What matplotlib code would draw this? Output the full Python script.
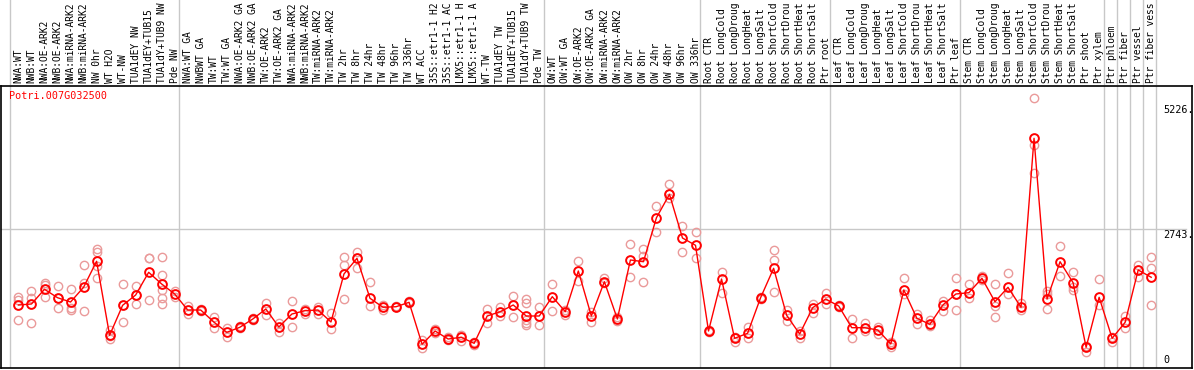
import numpy as np
import matplotlib
matplotlib.use("Agg")
import matplotlib.pyplot as plt
from matplotlib.transforms import blended_transform_factory

gene = "Potri.007G032500"

labels_nw = ["NWA:WT", "NWB:WT", "NWA:OE-ARK2", "NWB:OE-ARK2", "NWA:miRNA-ARK2",
             "NWB:miRNA-ARK2", "NW 0hr", "WT H2O", "WT-NW", "TUA1dEY NW",
             "TUA1dEY+TUB15 NW", "TUA1dY+TUB9 NW", "Pde NW"]
labels_tw = ["NWA:WT GA", "NWBWT GA", "TW:WT", "TW:WT GA", "NWA:OE-ARK2 GA",
             "NWB:OE-ARK2 GA", "TW:OE-ARK2", "TW:OE-ARK2 GA", "NWA:miRNA-ARK2 GA",
             "NWB:miRNA-ARK2 GA", "TW:miRNA-ARK2", "TW:miRNA-ARK2 GA", "TW 2hr",
             "TW 8hr", "TW 24hr", "TW 48hr", "TW 96hr", "TW 336hr", "WT ACC",
             "35S::etr1-1 H2O", "35S::etr1-1 ACC", "LMX5::etr1-1 H2O",
             "LMX5::etr1-1 ACC", "WT-TW", "TUA1dEY TW", "TUA1dEY+TUB15 TW",
             "TUA1dY+TUB9 TW", "Pde TW"]
labels_ow = ["OW:WT", "OW:WT GA", "OW:OE-ARK2", "OW:OE-ARK2 GA", "OW:miRNA-ARK2",
             "OW:miRNA-ARK2 GA", "OW 2hr", "OW 8hr", "OW 24hr", "OW 48hr",
             "OW 96hr", "OW 336hr"]
stress = ["CTR", "LongCold", "LongDrought", "LongHeat", "LongSalt",
          "ShortCold", "ShortDrought", "ShortHeat", "ShortSalt"]
labels_root = ["Root " + s for s in stress] + ["Ptr root"]
labels_leaf = ["Leaf " + s for s in stress] + ["Ptr leaf"]
labels_stem = ["Stem " + s for s in stress] + ["Ptr shoot", "Ptr xylem"]
labels_ptr = ["Ptr phloem", "Ptr fiber", "Ptr vessel", "Ptr fiber vessel"]

groups = [labels_nw, labels_tw, labels_ow, labels_root, labels_leaf, labels_stem,
          labels_ptr[:1], labels_ptr[1:2], labels_ptr[2:3], labels_ptr[3:]]
labels = sum(groups, [])

# mean expression per sample
means = [1243, 1263, 1553, 1387, 1302, 1592, 2105, 645, 1237, 1440, 1888, 1657, 1460,
         1144, 1144, 908, 704, 803, 967, 1164, 809, 1065, 1131, 1144, 908, 1855, 2164,
         1375, 1198, 1209, 1296, 468, 730, 572, 606, 487, 1026, 1111, 1243, 1026, 1026,
         1407, 1111, 1914, 1026, 1703, 967, 2131, 2097, 2965, 3427, 2565, 2421,
         730, 1756, 586, 685, 1387, 1967, 1040, 671, 1190, 1361,
         1223, 795, 795, 750, 474, 1539, 981, 862, 1243, 1460,
         1486, 1770, 1308, 1592, 1198, 4532, 1361, 2097, 1683, 408, 1395,
         586, 902, 1934, 1790]

# individual replicates
reps = [[1401, 1342, 947], [1519, 1375, 882], [1671, 1638, 1395], [1618, 1387, 1178],
        [1553, 1178, 1144], [2032, 1671, 1125], [2342, 2295, 2012, 1770], [750, 631, 566],
        [1657, 1243, 908], [1618, 1440, 1263], [2164, 2164, 1342],
        [2196, 1835, 1539, 1375, 1263], [1525, 1407],
        [1223, 1060], [1164, 1125], [1000, 783], [783, 618], [835, 783], [987, 947],
        [1288, 1046], [882, 716], [1322, 803], [1164, 1065], [1209, 1065], [1079, 764],
        [2184, 2032, 1355], [2295, 2164, 1967], [1691, 1223], [1243, 1144], [1223, 1198],
        [1328, 1277], [552, 389], [764, 696], [606, 552], [651, 539], [519, 454],
        [1164, 882], [1209, 1026], [1421, 1000], [1355, 1288, 947, 894, 848], [1198, 848],
        [1657, 1125], [1144, 1046], [2111, 1717], [1111, 914], [1770, 1671], [1012, 927],
        [2447, 1801], [2348, 2210, 1691], [3196, 2677], [3624, 3427, 3348], [2802, 2283],
        [2677, 2176],
        [750, 704], [1888, 1474], [618, 507], [803, 598], [1407, 1361], [2328, 2131, 1494],
        [1144, 933], [730, 598], [1257, 1079], [1486, 1257],
        [1243, 1209], [967, 598], [894, 730], [803, 671], [519, 420], [1770, 1460],
        [1065, 862], [947, 829], [1328, 1131], [1770, 1460, 1144],
        [1657, 1375], [1815, 1736], [1657, 1223, 1012], [1868, 1460], [1277, 1144],
        [5321, 4400, 3853], [1519, 1460, 1158], [2407, 1815], [1900, 1592, 1539],
        [434, 322], [1750, 1243],
        [618, 519], [1026, 783], [2032, 1801], [2196, 1967, 1243]]

ytick_vals = [5226, 2743]

mono = "DejaVu Sans Mono"
W, H = 1194, 370
fig = plt.figure(figsize=(W / 100, H / 100), dpi=100)

# plot panel (pixels 1..1192 x 86..368)
ax = fig.add_axes([1 / W, 2 / H, 1191 / W, 282 / H])
# label strip above the plot
axl = fig.add_axes([1 / W, 285 / H, 1191 / W, 85 / H])

col_w = 13.02
x0 = -9 / col_w
x1 = 1182 / col_w
for a in (ax, axl):
    a.set_xlim(x0, x1)

ax.set_ylim(0, 5564)
axl.set_ylim(0, 1)
axl.axis("off")

bounds = np.cumsum([0] + [len(g) for g in groups])
for b in bounds:
    ax.axvline(b, color="#c8c8c8", lw=1, zorder=0)
    axl.axvline(b, color="#c8c8c8", lw=1, zorder=0)
ax.axhline(2743, color="#c8c8c8", lw=1, xmax=0.995, zorder=0)

x = np.arange(len(labels)) + 0.65

for xi, r in zip(x, reps):
    ax.plot([xi] * len(r), r, ls="none", marker="o", ms=6, mfc="none",
            mec="#ea9a9a", mew=1, zorder=2)

ax.plot(x, means, color="red", lw=1, marker="o", ms=6.3, mfc="none",
        mec="red", mew=1.4, zorder=3)

# the source cuts sample names to 14 characters
lt = blended_transform_factory(axl.transData, axl.transAxes)
for xi, name in zip(x, labels):
    axl.text(xi, 0.025, name[:14].rstrip(), rotation=90, ha="center", va="bottom",
             fontsize=6.9, family=mono, transform=lt)

ax.set_xticks([])
ax.set_yticks([])
for s in ax.spines.values():
    s.set_color("black")
    s.set_linewidth(1.2)

# value labels on the right
tx = (1163 - 10) / col_w
for v in ytick_vals:
    ax.text(tx, v - 30, "%d." % v, ha="left", va="top", fontsize=7.3, family=mono)
ax.text(tx, 60, "0", ha="left", va="bottom", fontsize=7.3, family=mono)

ax.text(0.0067, 0.982, gene, transform=ax.transAxes, ha="left", va="top",
        color="red", fontsize=7.3, family=mono)

fig.savefig("out.png", dpi=100)
